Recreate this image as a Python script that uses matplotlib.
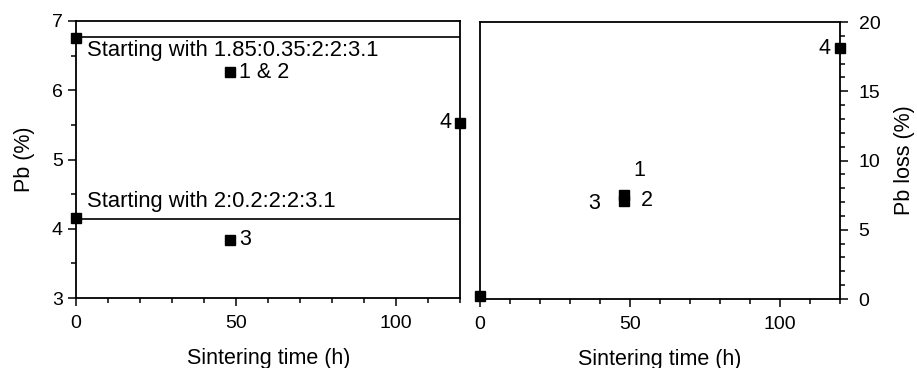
import matplotlib
matplotlib.use('Agg')
import matplotlib.pyplot as plt
from matplotlib.ticker import MultipleLocator

plt.rcParams['font.family'] = ['Liberation Sans', 'DejaVu Sans']
plt.rcParams['font.size'] = 14

# Left panel: Pb content (%)
pb_time = [0, 48, 120, 0, 48]
pb_value = [6.76, 6.27, 5.53, 4.15, 3.84]
start_levels = [6.77, 4.14]
start_labels = ['Starting with 1.85:0.35:2:2:3.1', 'Starting with 2:0.2:2:2:3.1']
start_label_y = [6.57, 4.39]
pb_labels = ['1 & 2', '3', '4']
pb_label_x = [50.8, 50.8, 115.5]
pb_label_y = [6.25, 3.84, 5.53]

# Right panel: Pb loss (%)
loss_time = [0, 48, 48, 120]
loss_value = [0.2, 7.5, 7.05, 18.1]
loss_labels = ['1', '2', '3', '4']
loss_label_x = [53, 55.5, 38, 114.8]
loss_label_y = [9.3, 7.1, 6.9, 18.1]

TXT = 15.5

fig = plt.figure(figsize=(9.17, 3.68), dpi=100)
ax1 = fig.add_axes([0.083, 0.19, 0.419, 0.753])
ax2 = fig.add_axes([0.5234, 0.1875, 0.3926, 0.7525])

for ax in (ax1, ax2):
    ax.set_xlim(0, 120)
    ax.xaxis.set_major_locator(MultipleLocator(50))
    ax.xaxis.set_minor_locator(MultipleLocator(10))
    ax.tick_params(which='both', direction='out', width=1.1)
    ax.tick_params(which='major', length=5.5)
    ax.tick_params(which='minor', length=3.5)
    ax.tick_params(axis='x', which='both', pad=7)
    ax.tick_params(axis='y', which='both', pad=4)
    ax.set_xlabel('Sintering time (h)', labelpad=11, fontsize=TXT)
    for s in ax.spines.values():
        s.set_linewidth(1.3)

# left
ax1.set_ylim(3, 7)
ax1.yaxis.set_major_locator(MultipleLocator(1))
ax1.yaxis.set_minor_locator(MultipleLocator(0.5))
for lvl in start_levels:
    ax1.axhline(lvl, color='black', lw=1.2)
ax1.plot(pb_time, pb_value, 's', color='black', ms=7, clip_on=False, zorder=5)
for t, y in zip(start_labels, start_label_y):
    ax1.text(3.5, y, t, va='center', ha='left', fontsize=15.8)
ax1.text(pb_label_x[0], pb_label_y[0], pb_labels[0], va='center', ha='left', fontsize=TXT)
ax1.text(pb_label_x[1], pb_label_y[1], pb_labels[1], va='center', ha='left', fontsize=TXT)
ax1.text(pb_label_x[2], pb_label_y[2], pb_labels[2], va='center', ha='center', fontsize=TXT)
ax1.set_ylabel('Pb (%)', labelpad=12, fontsize=TXT)

# right
ax2.set_ylim(0, 20)
ax2.yaxis.set_major_locator(MultipleLocator(5))
ax2.yaxis.set_minor_locator(MultipleLocator(1))
ax2.yaxis.tick_right()
ax2.yaxis.set_label_position('right')
ax2.tick_params(axis='y', which='both', pad=8)
ax2.set_ylabel('Pb loss (%)', labelpad=10, fontsize=TXT)
ax2.plot(loss_time, loss_value, 's', color='black', ms=7, clip_on=False, zorder=5)
for t, x, y in zip(loss_labels, loss_label_x, loss_label_y):
    ax2.text(x, y, t, va='center', ha='center', fontsize=TXT)

fig.savefig('out.png', dpi=100)
